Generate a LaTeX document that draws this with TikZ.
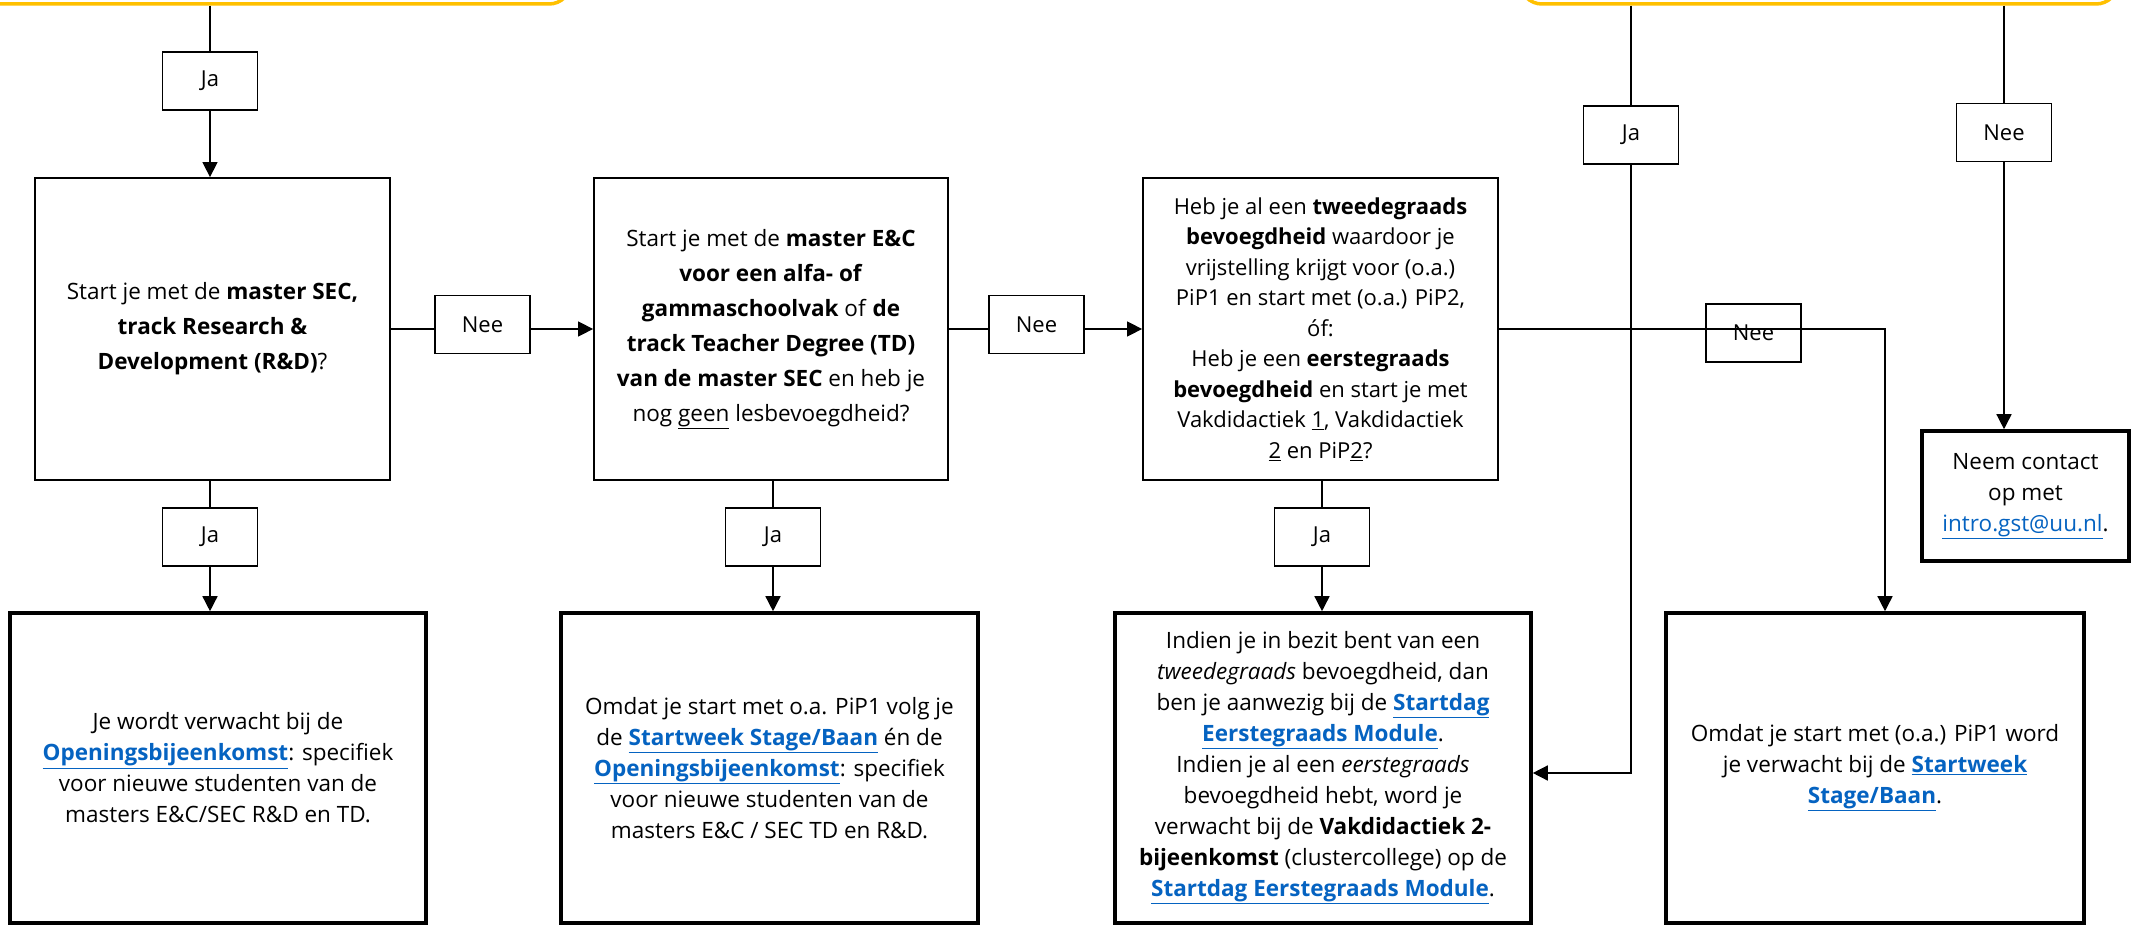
\documentclass[tikz,border=0pt]{standalone}
\usepackage{fontspec}
\setmainfont{Open Sans}
\usetikzlibrary{arrows.meta}
\definecolor{linkblue}{HTML}{0563C1}
\definecolor{yel}{HTML}{FFC000}
\newcommand{\lnk}[1]{\textcolor{linkblue}{\underline{\textbf{#1}}}}
\begin{document}
\begin{tikzpicture}[x=1pt,y=-1pt,
  lbl/.style={draw, line width=1.5pt, minimum width=95pt, minimum height=58pt, inner sep=0pt, fill=white, font=\fontsize{22}{26}\selectfont},
  qbox/.style={draw, line width=1.8pt, inner sep=0pt, align=center, minimum height=302pt},
  abox/.style={draw, line width=3.6pt, inner sep=0pt, align=center, minimum height=310pt, font=\fontsize{22.5}{31}\selectfont},
  conn/.style={line width=1.5pt},
  arr/.style={conn, -{Triangle[length=15pt,width=15pt]}},
  ybox/.style={draw=yel, line width=3.5pt, rounded corners=22pt}]
\useasboundingbox (0,0) rectangle (2136,928);
\fill[white] (0,0) rectangle (2136,928);

% yellow boxes (partly off the page)
\node[ybox, minimum width=700pt, minimum height=200pt] (yl) at (221,-96) {};
\node[ybox, minimum width=598pt, minimum height=200pt] (yr) at (1819,-96) {};

% question boxes
\node[qbox, minimum width=355pt, font=\fontsize{22.5}{35}\selectfont] (q1) at (212.5,329)
 {Start je met de \textbf{master SEC,}\\ \textbf{track Research \&}\\ \textbf{Development (R\&D)}?};
\node[qbox, minimum width=354pt, font=\fontsize{22.5}{35}\selectfont] (q2) at (771,329)
 {Start je met de \textbf{master E\&C}\\ \textbf{voor een alfa- of}\\ \textbf{gammaschoolvak} of \textbf{de}\\ \textbf{track Teacher Degree (TD)}\\ \textbf{van de master SEC} en heb je\\ nog \underline{geen} lesbevoegdheid?};
\node[qbox, minimum width=355pt, font=\fontsize{22}{30.5}\selectfont] (q3) at (1320.5,329)
 {Heb je al een \textbf{tweedegraads}\\ \textbf{bevoegdheid} waardoor je\\ vrijstelling krijgt voor (o.a.)\\ PiP1 en start met (o.a.) PiP2,\\ óf:\\ Heb je een \textbf{eerstegraads}\\ \textbf{bevoegdheid} en start je met\\ Vakdidactiek \underline{1}, Vakdidactiek\\ \underline{2} en PiP\underline{2}?};

% answer boxes
\node[abox, minimum width=416pt] (b1) at (218,768)
 {Je wordt verwacht bij de\\ \lnk{Openingsbijeenkomst}: specifiek\\ voor nieuwe studenten van de\\ masters E\&C/SEC R\&D en TD.};
\node[abox, minimum width=417pt] (b2) at (769.5,768)
 {Omdat je start met o.a. PiP1 volg je\\ de \lnk{Startweek Stage/Baan} én de\\ \lnk{Openingsbijeenkomst}: specifiek\\ voor nieuwe studenten van de\\ masters E\&C / SEC TD en R\&D.};
\node[abox, minimum width=416pt] (b3) at (1323,768)
 {Indien je in bezit bent van een\\ \textit{tweedegraads} bevoegdheid, dan\\ ben je aanwezig bij de \lnk{Startdag}\\ \lnk{Eerstegraads Module}.\\ Indien je al een \textit{eerstegraads}\\ bevoegdheid hebt, word je\\ verwacht bij de \textbf{Vakdidactiek 2-}\\ \textbf{bijeenkomst} (clustercollege) op de\\ \lnk{Startdag Eerstegraads Module}.};
\node[abox, minimum width=418pt] (b4) at (1875,768)
 {Omdat je start met (o.a.) PiP1 word\\ je verwacht bij de \lnk{Startweek}\\ \lnk{Stage/Baan}.};
\node[abox, minimum width=207pt, minimum height=130pt] (ct) at (2025.5,496)
 {Neem contact\\ op met\\ \textcolor{linkblue}{\underline{intro.gst@uu.nl}}.};

% labels
\node[lbl] (ja0) at (210,81) {Ja};
\node[lbl] (ja1) at (210,537) {Ja};
\node[lbl] (ja2) at (773,537) {Ja};
\node[lbl] (ja3) at (1322,537) {Ja};
\node[lbl] (nee1) at (482.5,324.5) {Nee};
\node[lbl] (nee2) at (1036.5,324.5) {Nee};
\node[lbl] (nee3) at (1753.5,333) {\raisebox{-4pt}{Nee}};
\node[lbl] (jaR) at (1631,135) {Ja};
\node[lbl] (neeR) at (2004,132.5) {Nee};

\coordinate (c3) at (1885,329);
\coordinate (cj) at (1631,773);

% connectors
\draw[conn] (ja0.north |- yl.south) -- (ja0.north);
\draw[arr] (ja0.south) -- (ja0.south |- q1.north);
\draw[conn] (ja1.north |- q1.south) -- (ja1.north);
\draw[arr] (ja1.south) -- (ja1.south |- b1.north);
\draw[conn] (ja2.north |- q2.south) -- (ja2.north);
\draw[arr] (ja2.south) -- (ja2.south |- b2.north);
\draw[conn] (ja3.north |- q3.south) -- (ja3.north);
\draw[arr] (ja3.south) -- (ja3.south |- b3.north);
\draw[conn] (q1.east) -- (q1.east -| nee1.west);
\draw[arr] (q1.east -| nee1.east) -- (q2.west |- q1.east);
\draw[conn] (q2.east) -- (q2.east -| nee2.west);
\draw[arr] (q2.east -| nee2.east) -- (q3.west |- q2.east);
\draw[arr] (q3.east) -- (c3) -- (c3 |- b4.north);
\draw[conn] (jaR.north |- yr.south) -- (jaR.north);
\draw[arr] (jaR.south) -- (cj) -- (cj -| b3.east);
\draw[conn] (neeR.north |- yr.south) -- (neeR.north);
\draw[arr] (neeR.south) -- (neeR.south |- ct.north);
\end{tikzpicture}
\end{document}
